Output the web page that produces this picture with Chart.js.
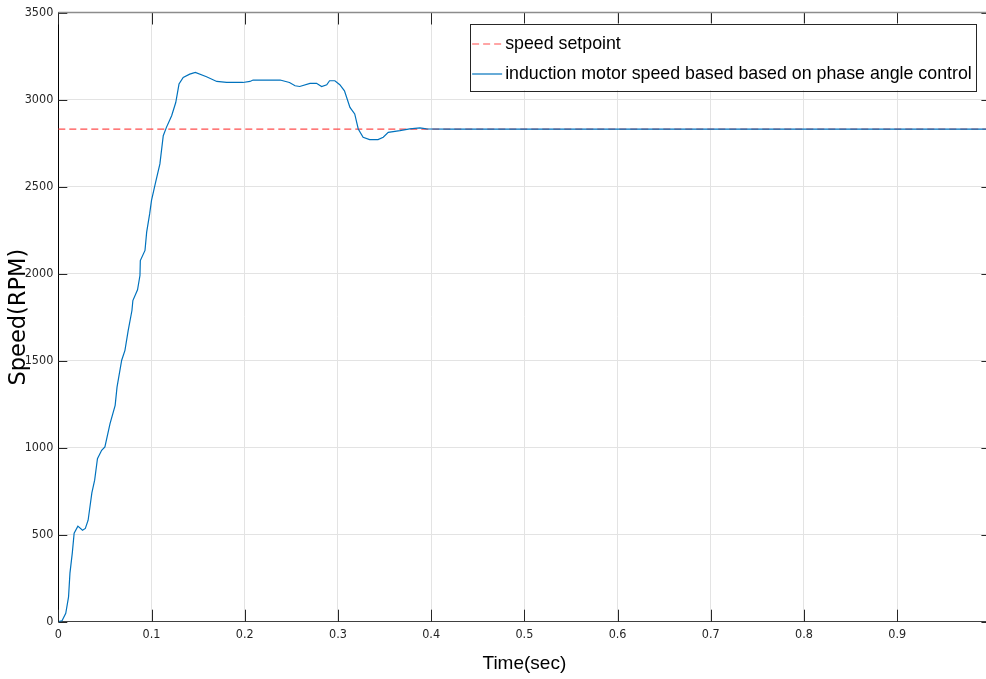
<!DOCTYPE html>
<html>
<head>
<meta charset="utf-8">
<script src="https://cdn.jsdelivr.net/npm/chart.js@4.4.1/dist/chart.umd.min.js"></script>
<style>
  html, body { margin: 0; padding: 0; background: #fff; overflow: hidden; }
  #wrap { position: relative; width: 1000px; height: 679px; }
</style>
</head>
<body>
<div id="wrap"><canvas id="chart" width="1000" height="679"></canvas></div>
<script>
const timeSec = [0, 0.004, 0.008, 0.011, 0.0125, 0.015, 0.017, 0.021, 0.026, 0.029,
  0.032, 0.036, 0.039, 0.042, 0.0465, 0.05, 0.0555, 0.061, 0.063, 0.068,
  0.0715, 0.075, 0.079, 0.08, 0.085, 0.0876, 0.088, 0.093, 0.0948, 0.098,
  0.1, 0.104, 0.109, 0.1126, 0.116, 0.1216, 0.126, 0.1295, 0.134, 0.141,
  0.147, 0.159, 0.17, 0.1806, 0.198, 0.2056, 0.209, 0.238, 0.248, 0.254,
  0.259, 0.27, 0.277, 0.2825, 0.288, 0.291, 0.2967, 0.302, 0.307, 0.3129,
  0.318, 0.3218, 0.327, 0.334, 0.343, 0.3486, 0.354, 0.3665, 0.377, 0.388,
  0.395, 0.42, 1.0];
const motorSpeed = [0, 5, 48, 143, 279, 394, 509, 549, 526, 536,
  583, 740, 813, 937, 985, 1004, 1138, 1243, 1348, 1502,
  1559, 1674, 1788, 1845, 1907, 1989, 2075, 2133, 2238, 2343,
  2420, 2515, 2630, 2792, 2840, 2907, 2983, 3089, 3127, 3146,
  3156, 3131, 3104, 3098, 3098, 3104, 3112, 3112, 3098, 3079,
  3075, 3093, 3093, 3075, 3085, 3108, 3108, 3085, 3050, 2955,
  2917, 2831, 2783, 2770, 2770, 2783, 2811, 2821, 2831, 2837,
  2831, 2830, 2830];
const setpointTime = [0, 1];
const setpointSpeed = [2830, 2830];

const xTicks = [0, 0.1, 0.2, 0.3, 0.4, 0.5, 0.6, 0.7, 0.8, 0.9, 1];
const yTicks = [0, 500, 1000, 1500, 2000, 2500, 3000, 3500];

const toPoints = (xs, ys) => xs.map((x, i) => ({ x: x, y: ys[i] }));

const AXIS = '#262626';
const tickFont = { family: "'Liberation Sans Narrow', 'DejaVu Sans Condensed', 'Liberation Sans', sans-serif", size: 12.5 };

// MATLAB-like box: inward ticks on all four sides + top/right edges
const boxPlugin = {
  id: 'box',
  afterDatasetsDraw(chart) {
    const { ctx, chartArea: a, scales } = chart;
    ctx.save();
    ctx.lineWidth = 1;
    ctx.strokeStyle = AXIS;
    xTicks.forEach(v => {
      const px = Math.round(scales.x.getPixelForValue(v)) + 0.5;
      ctx.beginPath();
      ctx.moveTo(px, a.bottom); ctx.lineTo(px, a.bottom - 12);
      ctx.moveTo(px, a.top); ctx.lineTo(px, a.top + 12);
      ctx.stroke();
    });
    yTicks.forEach(v => {
      const py = Math.round(scales.y.getPixelForValue(v)) + 0.5;
      ctx.beginPath();
      ctx.moveTo(a.left, py); ctx.lineTo(a.left + 9, py);
      ctx.moveTo(a.right, py); ctx.lineTo(a.right - 9, py);
      ctx.stroke();
    });
    ctx.strokeStyle = '#8c8c8c';
    ctx.lineWidth = 1.5;
    ctx.beginPath();
    ctx.moveTo(a.left, a.top); ctx.lineTo(a.right, a.top);
    ctx.moveTo(a.right, a.top); ctx.lineTo(a.right, a.bottom);
    ctx.stroke();
    ctx.restore();
  }
};

// legend box in the upper right corner of the axes
const legendPlugin = {
  id: 'boxLegend',
  afterDraw(chart) {
    const { ctx, chartArea: a } = chart;
    const sets = chart.data.datasets;
    ctx.save();
    ctx.font = "17.8px 'Liberation Sans', Arial, sans-serif";
    const textW = Math.max(...sets.map(d => ctx.measureText(d.label).width));
    const right = a.right - 14.7;
    const w = 35.5 + textW + 4;
    const left = right - w;
    const top = a.top + 11, h = 66.6;
    ctx.fillStyle = '#fff';
    ctx.fillRect(left, top, w, h);
    ctx.strokeStyle = '#262626';
    ctx.lineWidth = 1;
    ctx.strokeRect(Math.round(left) + 0.5, Math.round(top) + 0.5, Math.round(w), Math.round(h));
    sets.forEach((d, i) => {
      const cy = top + 20.5 + i * 30;
      ctx.strokeStyle = d.borderColor;
      ctx.lineWidth = d.borderWidth;
      ctx.setLineDash(d.borderDash || []);
      ctx.beginPath();
      ctx.moveTo(left + 2.5, cy); ctx.lineTo(left + 32.5, cy);
      ctx.stroke();
      ctx.setLineDash([]);
      ctx.fillStyle = '#000';
      ctx.textBaseline = 'middle';
      ctx.fillText(d.label, left + 35.5, cy);
    });
    ctx.restore();
  }
};

new Chart(document.getElementById('chart'), {
  type: 'line',
  data: {
    datasets: [
      {
        label: 'speed setpoint',
        data: toPoints(setpointTime, setpointSpeed),
        borderColor: '#ff4d4d',
        borderWidth: 1.2,
        borderDash: [7, 4],
        pointRadius: 0,
        order: 1
      },
      {
        label: 'induction motor speed based based on phase angle control',
        data: toPoints(timeSec, motorSpeed),
        borderColor: '#0072bd',
        borderWidth: 1.2,
        pointRadius: 0,
        tension: 0,
        order: 0
      }
    ]
  },
  options: {
    responsive: false,
    animation: false,
    devicePixelRatio: 1,
    layout: { padding: { top: 11.7, right: 9.3, left: 0, bottom: 0 } },
    plugins: { legend: { display: false }, tooltip: { enabled: false } },
    scales: {
      x: {
        type: 'linear',
        min: 0,
        max: 1,
        afterFit: s => { s.height = 57.3; },
        afterBuildTicks: s => { s.ticks = xTicks.map(v => ({ value: v })); },
        ticks: {
          color: AXIS,
          font: tickFont,
          padding: 6,
          maxRotation: 0,
          callback: v => String(Number(v.toFixed(1)))
        },
        grid: { color: '#e3e3e3', drawTicks: false },
        border: { color: '#404040', width: 1 },
        title: {
          display: true,
          text: 'Time(sec)',
          color: '#000',
          font: { family: "'Liberation Sans', Arial, sans-serif", size: 19 },
          padding: { top: 8, bottom: 3.5 }
        }
      },
      y: {
        min: 0,
        max: 3500,
        afterFit: s => { s.width = 58.3; },
        afterBuildTicks: s => { s.ticks = yTicks.map(v => ({ value: v })); },
        ticks: {
          color: AXIS,
          font: tickFont,
          padding: 5,
          callback: v => String(v)
        },
        grid: { color: '#e3e3e3', drawTicks: false },
        border: { color: '#000', width: 1 },
        title: {
          display: true,
          text: 'Speed(RPM)',
          color: '#000',
          font: { family: "'DejaVu Sans', sans-serif", size: 22.5 },
          padding: { top: 6, bottom: 4 }
        }
      }
    }
  },
  plugins: [boxPlugin, legendPlugin]
});
</script>
</body>
</html>
